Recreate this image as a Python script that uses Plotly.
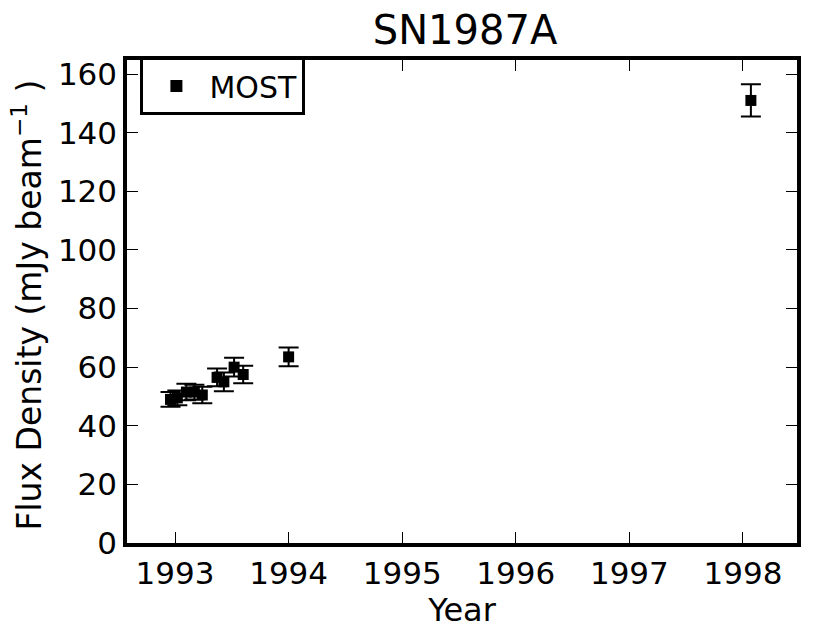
import plotly.graph_objects as go

years = [1992.96, 1993.02, 1993.10, 1993.17, 1993.24, 1993.37, 1993.43, 1993.52, 1993.60, 1994.00, 1998.07]
flux = [49.0, 49.5, 51.5, 51.5, 50.5, 56.5, 55.0, 60.0, 57.5, 63.5, 151.0]
flux_err = [2.5, 2.5, 2.8, 2.5, 2.8, 3.0, 3.2, 3.2, 3.0, 3.2, 5.5]

xticks = [1993, 1994, 1995, 1996, 1997, 1998]
yticks = [0, 20, 40, 60, 80, 100, 120, 140, 160]
y_title = "Flux Density (mJy beam<sup>\u22121</sup> )"

fig = go.Figure()
fig.add_trace(go.Scatter(
    x=years, y=flux, mode="markers", name="MOST",
    marker=dict(symbol="square", size=11, color="black"),
    error_y=dict(type="data", array=flux_err, color="black", thickness=2, width=10),
))

axis_common = dict(
    showline=True, linecolor="black", linewidth=3.5, mirror="ticks",
    ticks="inside", ticklen=11, tickwidth=1.3, tickcolor="black",
    showgrid=False, zeroline=False, automargin=False,
    tickfont=dict(family="DejaVu Sans", size=31, color="black"),
)

# page body has an 8px margin, so the figure is drawn 8px smaller and offset
fig.update_layout(
    width=822, height=623,
    paper_bgcolor="white", plot_bgcolor="white",
    margin=dict(l=119, r=33, t=52, b=88),
    title=dict(text="SN1987A", x=0.556, xanchor="center", y=0.965, yanchor="middle",
               automargin=False,
               font=dict(family="DejaVu Sans", size=40, color="black")),
    font=dict(family="DejaVu Sans", color="black"),
    xaxis=dict(range=[1992.577, 1998.476], tickvals=xticks, ticktext=[str(t) for t in xticks],
               title=dict(text="Year", font=dict(size=32), standoff=5), **axis_common),
    yaxis=dict(range=[0, 164.8], tickvals=yticks, **axis_common),
    legend=dict(x=0.02, y=0.946, xanchor="left", yanchor="middle",
                bordercolor="black", borderwidth=3, bgcolor="white",
                font=dict(family="DejaVu Sans", size=30, color="black"),
                itemsizing="constant", itemwidth=56, tracegroupgap=0),
    showlegend=True,
    annotations=[dict(text=y_title, xref="paper", yref="paper", x=-0.149, y=0.492,
                      xanchor="center", yanchor="middle", textangle=-90, showarrow=False,
                      font=dict(family="DejaVu Sans", size=33, color="black"))],
)

fig.write_html("out.html")
